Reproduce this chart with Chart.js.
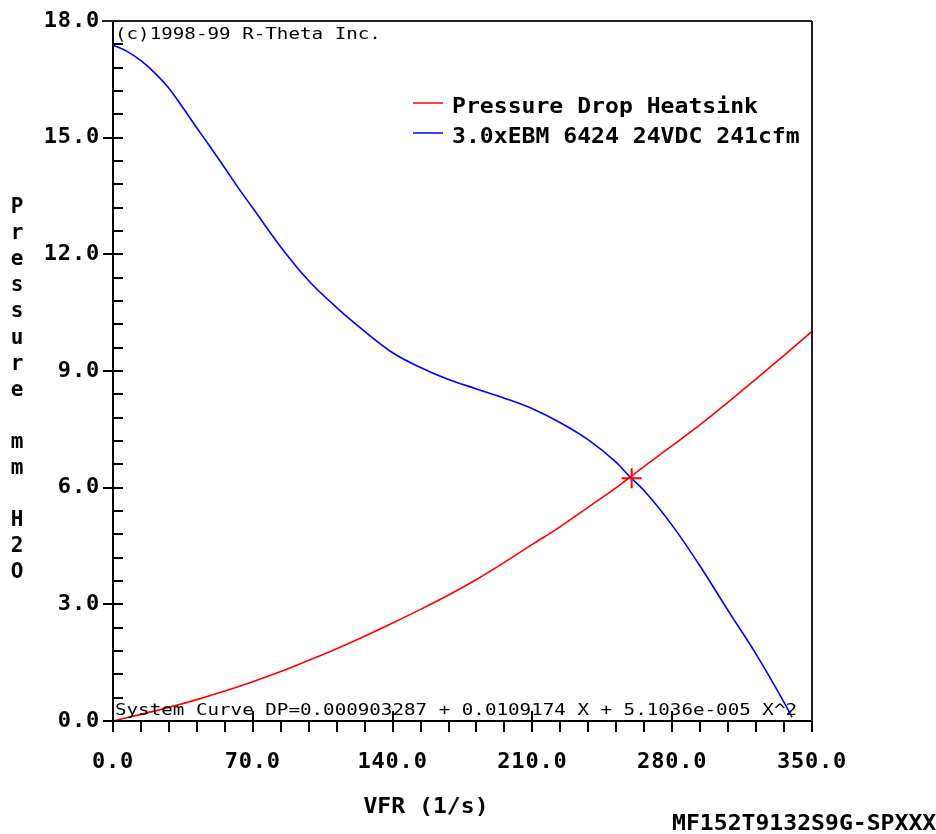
<!DOCTYPE html>
<html><head><meta charset="utf-8">
<script src="https://cdn.jsdelivr.net/npm/chart.js@4.4.0/dist/chart.umd.min.js"></script>
<style>html,body{margin:0;padding:0;background:#fff;}#wrap{width:936px;height:834px;position:relative;}</style>
</head><body><div id="wrap"><canvas id="c" width="936" height="834"></canvas></div>
<script>
// Fan curve (blue)
const fanX = [0,7,14,21,28,35,42,49,56,63,70,84,98,112,126,140,154,168,182,196,210,224,238,252,259,266,280,294,308,322,336,340];
const fanY = [17.38,17.22,16.98,16.66,16.27,15.77,15.25,14.74,14.22,13.69,13.19,12.19,11.32,10.63,10.02,9.47,9.09,8.78,8.54,8.3,8.03,7.67,7.23,6.65,6.27,5.92,5.03,3.98,2.84,1.72,0.48,0.1];
// System curve (red)
const sysX = [0,14,28,42,56,70,84,98,112,126,140,154,168,182,196,210,224,238,252,266,280,294,308,322,336,350];
const sysY = [0,0.17,0.35,0.55,0.77,1.01,1.27,1.56,1.86,2.18,2.52,2.87,3.24,3.64,4.08,4.54,5.0,5.5,6.0,6.55,7.08,7.62,8.2,8.8,9.4,10.02];
// Operating point
const opX = [259.7];
const opY = [6.24];
// Axis tick settings
const xMin = 0, xMax = 350, xMinorStep = 14, xMajorStep = 70;
const yMin = 0, yMax = 18, yMinorStep = 0.6, yMajorStep = 3;
const seriesNames = ['Pressure Drop Heatsink', '3.0xEBM 6424 24VDC 241cfm'];
const yTitle = ['P','r','e','s','s','u','r','e','','m','m','','H','2','O'];
const xTitle = 'VFR (1/s)';
const copyright = '(c)1998-99 R-Theta Inc.';
const curveText = 'System Curve DP=0.000903287 + 0.0109174 X + 5.1036e-005 X^2';
const partName = 'MF152T9132S9G-SPXXX';

const zip = (xs, ys) => xs.map((x, i) => ({x: x, y: ys[i]}));
const isMult = (v, s) => Math.abs(v / s - Math.round(v / s)) < 1e-6;
const MONO = "'DejaVu Sans Mono', 'Liberation Mono', monospace";

const decor = {
  id: 'decor',
  beforeDraw(chart) { chart.ctx.letterSpacing = '0.8px'; },
  afterDraw(chart) {
    const ctx = chart.ctx, a = chart.chartArea, xs = chart.scales.x, ys = chart.scales.y;
    ctx.save();
    ctx.letterSpacing = '0px';
    ctx.strokeStyle = '#222';
    ctx.lineWidth = 2;
    ctx.beginPath();
    ctx.moveTo(a.left - 11, a.top); ctx.lineTo(a.right, a.top);
    ctx.moveTo(a.right, a.top); ctx.lineTo(a.right, a.bottom + 1);
    ctx.stroke();
    ctx.strokeStyle = '#000';
    ctx.beginPath();
    xs.ticks.forEach(t => {
      const px = Math.round(xs.getPixelForValue(t.value));
      const major = isMult(t.value, xMajorStep);
      ctx.moveTo(px, a.bottom + (major && t.value > 0 && t.value < xMax ? -10 : 0));
      ctx.lineTo(px, a.bottom + 11);
    });
    ys.ticks.forEach(t => {
      const py = Math.round(ys.getPixelForValue(t.value));
      const major = isMult(t.value, yMajorStep);
      if (t.value >= yMax) return;
      ctx.moveTo(a.left - (major ? 10 : 0), py);
      ctx.lineTo(a.left + 10, py);
    });
    ctx.stroke();

    const txt = (s, x, y, font, align, sx) => {
      ctx.save();
      ctx.font = font; ctx.textAlign = align;
      ctx.textBaseline = 'alphabetic'; ctx.fillStyle = '#000';
      ctx.translate(x, y); ctx.scale(sx, 1);
      ctx.fillText(s, 0, 0);
      ctx.restore();
    };
    const REG = "16px " + MONO, BOLD = "bold 21px " + MONO;
    txt(copyright, a.left + 2, 39, REG, 'left', 1.2);
    txt(curveText, a.left + 2, 715, REG, 'left', 1.2);
    // legend
    const legY = [103, 133];
    const cols = ['#ff0000', '#0000ff'];
    seriesNames.forEach((n, i) => {
      ctx.strokeStyle = cols[i]; ctx.lineWidth = 1.5;
      ctx.beginPath(); ctx.moveTo(413, legY[i]); ctx.lineTo(443, legY[i]); ctx.stroke();
      txt(n, 452, legY[i] + 10, BOLD, 'left', 1.1);
    });
    yTitle.forEach((c, i) => {
      if (c) txt(c, 17, 205.5 + i * 26.1 + 7.5, BOLD, 'center', 1.0);
    });
    txt(xTitle, 426, 813, BOLD, 'center', 1.1);
    txt(partName, 672, 830, BOLD, 'left', 1.1);
    ctx.restore();
  }
};

new Chart(document.getElementById('c'), {
  type: 'line',
  data: {
    datasets: [
      {label: seriesNames[0], data: zip(sysX, sysY), borderColor: '#ff0000', borderWidth: 1.6, pointRadius: 0, cubicInterpolationMode: 'monotone', fill: false, order: 2},
      {label: seriesNames[1], data: zip(fanX, fanY), borderColor: '#0000ff', borderWidth: 1.6, pointRadius: 0, cubicInterpolationMode: 'monotone', fill: false, order: 3},
      {label: 'Operating point', data: zip(opX, opY), borderColor: '#ff0000', showLine: false, pointStyle: 'cross', pointRadius: 10, pointBorderWidth: 2, order: 1}
    ]
  },
  options: {
    responsive: false,
    animation: false,
    devicePixelRatio: 1,
    layout: {padding: {top: 21, right: 124, left: 0, bottom: 0}},
    plugins: {legend: {display: false}, tooltip: {enabled: false}},
    scales: {
      x: {
        type: 'linear', min: xMin, max: xMax,
        afterFit(s) { s.height = 113; },
        grid: {display: false},
        border: {display: true, color: '#000', width: 2},
        ticks: {
          stepSize: xMinorStep, autoSkip: false, maxRotation: 0, padding: 20,
          color: '#000', font: {family: MONO, size: 22, weight: 'bold'},
          callback: v => isMult(v, xMajorStep) ? v.toFixed(1) : ''
        }
      },
      y: {
        type: 'linear', min: yMin, max: yMax,
        afterFit(s) { s.width = 113; },
        grid: {display: false},
        border: {display: true, color: '#000', width: 2},
        ticks: {
          stepSize: yMinorStep, autoSkip: false, padding: 5,
          color: '#000', font: {family: MONO, size: 22, weight: 'bold'},
          callback: v => isMult(v, yMajorStep) ? v.toFixed(1) : ''
        }
      }
    }
  },
  plugins: [decor]
});
</script></body></html>
